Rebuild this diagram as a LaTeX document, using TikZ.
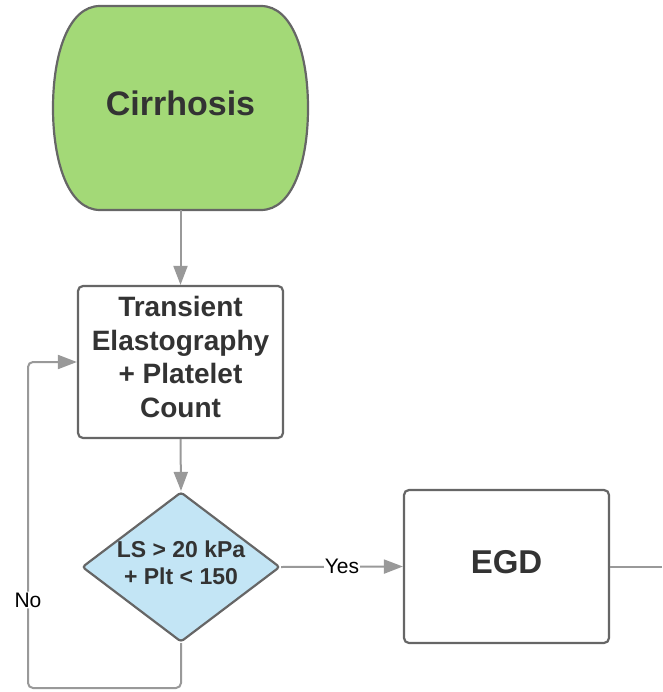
\documentclass[tikz,border=0pt]{standalone}
\usepackage{fontspec}
\setmainfont{Liberation Sans}
\usetikzlibrary{arrows.meta,shapes.geometric}

\definecolor{startgreen}{HTML}{A3D977}
\definecolor{decblue}{HTML}{C3E5F5}
\definecolor{edgegray}{HTML}{666666}
\definecolor{linkgray}{HTML}{999999}
\definecolor{inkgray}{HTML}{333333}

\begin{document}
\begin{tikzpicture}[x=1pt,y=-1pt,
  outline/.style={draw=edgegray, line width=2.2pt},
  procbox/.style={outline, rounded corners=5pt, fill=white, text=inkgray,
    font=\bfseries, align=center, inner sep=0pt},
  decision/.style={outline, diamond, shape aspect=1.32, rounded corners=3pt,
    fill=decblue, text=inkgray, align=center, inner sep=0pt,
    font=\fontsize{23}{27}\selectfont\bfseries},
  link/.style={draw=linkgray, line width=2pt},
  arrowlink/.style={link, -{Triangle[length=19pt,width=14pt]}},
  edgelabel/.style={fill=white, text=black, inner sep=1pt,
    font=\fontsize{21}{24}\selectfont}]

\useasboundingbox (0,0) rectangle (662,692);

% start terminal with straight top/bottom and bulging sides
\path[outline, fill=startgreen]
  (100,6) -- (261,6)
  .. controls (293,6) and (308,55) .. (308,108)
  .. controls (308,161) and (293,210) .. (261,210)
  -- (100,210)
  .. controls (68,210) and (53,161) .. (53,108)
  .. controls (53,55) and (68,6) .. (100,6) -- cycle;
\node (cirr) [minimum width=255pt, minimum height=204pt, inner sep=0pt,
  text depth=9pt, text=inkgray, font=\fontsize{34}{40}\selectfont\bfseries]
  at (180.5,108) {Cirrhosis};

% process boxes
\node (te) [procbox, minimum width=205pt, minimum height=152pt,
  font=\fontsize{28}{33.5}\selectfont\bfseries]
  at (180.5,362) {Transient\\Elastography\\+ Platelet\\Count\strut};
\node (egd) [procbox, minimum width=205pt, minimum height=153pt,
  text depth=9pt, font=\fontsize{33}{40}\selectfont\bfseries]
  at (506.5,566.5) {EGD};

% decision
\node (dec) [decision, minimum width=198pt, minimum height=150pt]
  at (181,567) {LS > 20 kPa\\+ Plt < 150\strut};

% loose ends of the connectors
\coordinate (loopbl) at (28,688);
\coordinate (egdout) at (662,566.5);

% connectors
\draw[arrowlink] (cirr.south) -- (te.north);
\draw[arrowlink] (te.south) -- (dec.north);
\draw[arrowlink] (dec.east) -- node[edgelabel]{Yes} (egd.west);
\draw[link] (egd.east) -- (egdout);
\draw[arrowlink, rounded corners=5pt]
  (dec.south) |- (loopbl)
  -- node[edgelabel, pos=0.27]{No} (loopbl |- te.west)
  -- (te.west);

\end{tikzpicture}
\end{document}
